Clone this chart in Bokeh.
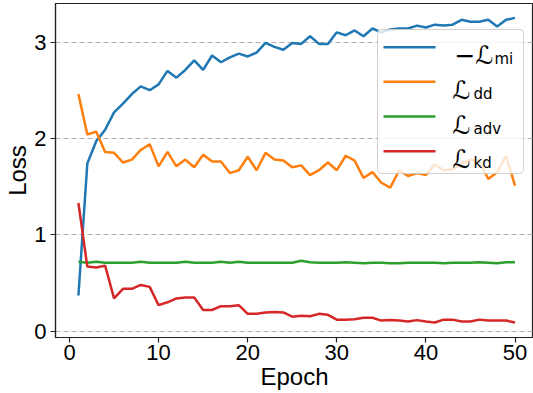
from bokeh.plotting import figure
from bokeh.models import Range1d, BoxAnnotation, Label, FixedTicker
from bokeh.embed import file_html
from bokeh.resources import INLINE

# ---------------- data ----------------
epochs = list(range(1, 51))
neg_l_mi = [0.37, 1.74, 1.97, 2.09, 2.27, 2.36, 2.46, 2.54, 2.50, 2.56,
            2.70, 2.63, 2.71, 2.81, 2.71, 2.86, 2.79, 2.84, 2.88, 2.85,
            2.89, 2.99, 2.95, 2.92, 2.99, 2.98, 3.06, 2.98, 2.98, 3.10,
            3.07, 3.12, 3.06, 3.14, 3.10, 3.13, 3.14, 3.14, 3.17, 3.15,
            3.18, 3.17, 3.18, 3.23, 3.21, 3.21, 3.23, 3.16, 3.23, 3.25]
l_dd = [2.46, 2.04, 2.07, 1.86, 1.85, 1.75, 1.78, 1.88, 1.94, 1.71,
        1.86, 1.71, 1.78, 1.70, 1.83, 1.76, 1.76, 1.64, 1.67, 1.81,
        1.67, 1.85, 1.78, 1.77, 1.70, 1.72, 1.62, 1.67, 1.75, 1.67,
        1.82, 1.77, 1.59, 1.65, 1.54, 1.49, 1.67, 1.61, 1.64, 1.62,
        1.73, 1.67, 1.68, 1.74, 1.78, 1.76, 1.58, 1.65, 1.82, 1.51]
l_adv = [0.72, 0.71, 0.72, 0.71, 0.71, 0.71, 0.71, 0.72, 0.71, 0.71,
         0.71, 0.71, 0.72, 0.71, 0.71, 0.71, 0.72, 0.71, 0.72, 0.71,
         0.71, 0.71, 0.71, 0.71, 0.71, 0.73, 0.715, 0.71, 0.71, 0.71,
         0.715, 0.71, 0.705, 0.71, 0.71, 0.705, 0.705, 0.71, 0.71, 0.71,
         0.71, 0.705, 0.71, 0.71, 0.71, 0.715, 0.71, 0.705, 0.715, 0.715]
l_kd = [1.33, 0.67, 0.66, 0.68, 0.34, 0.44, 0.44, 0.48, 0.46, 0.27,
        0.30, 0.34, 0.35, 0.35, 0.22, 0.22, 0.26, 0.26, 0.27, 0.18,
        0.18, 0.195, 0.20, 0.195, 0.15, 0.16, 0.155, 0.18, 0.17, 0.12,
        0.12, 0.125, 0.14, 0.14, 0.11, 0.115, 0.11, 0.10, 0.115, 0.10,
        0.09, 0.12, 0.12, 0.10, 0.10, 0.12, 0.11, 0.11, 0.11, 0.09]

series = [neg_l_mi, l_dd, l_adv, l_kd]
label_main = ["\u2212\u2112", "\u2112", "\u2112", "\u2112"]
label_sub = ["mi", "dd", "adv", "kd"]
colors = ["#1f77b4", "#ff7f0e", "#2ca02c", "#d62728"]
x_ticks = [0, 10, 20, 30, 40, 50]
y_ticks = [0, 1, 2, 3]
x_label = "Epoch"
y_label = "Loss"

# ------------- geometry helpers (image px -> data) -------------
def dx(px):
    return (px - 69.0) / 8.91

def dy(py):
    return (330.7 - py) / 96.4

p = figure(width=533, height=393, output_backend="svg", toolbar_location=None,
           x_range=Range1d(dx(55), dx(533)), y_range=Range1d(dy(337), dy(3)),
           min_border_left=55, min_border_right=0, min_border_top=3, min_border_bottom=56)
p.background_fill_color = "white"
p.border_fill_color = "white"
p.outline_line_color = "#222222"
p.outline_line_width = 1.2

for ax in (p.xaxis[0], p.yaxis[0]):
    ax.axis_line_color = "#222222"
    ax.axis_line_width = 1.2
    ax.major_tick_line_color = "#222222"
    ax.major_tick_line_width = 1.2
    ax.major_tick_in = 0
    ax.major_tick_out = 5
    ax.minor_tick_line_color = None
    ax.major_label_text_font = "Liberation Sans"
    ax.major_label_text_font_size = "22px"
    ax.major_label_text_color = "black"
    ax.axis_label_text_font = "Liberation Sans"
    ax.axis_label_text_font_size = "24px"
    ax.axis_label_text_font_style = "normal"
    ax.axis_label_text_color = "black"

p.xaxis[0].ticker = FixedTicker(ticks=x_ticks)
p.yaxis[0].ticker = FixedTicker(ticks=y_ticks)
p.xaxis[0].axis_label = x_label
p.yaxis[0].axis_label = y_label
p.xaxis[0].major_label_standoff = 2
p.xaxis[0].axis_label_standoff = 0
p.yaxis[0].major_label_standoff = 4
p.yaxis[0].axis_label_standoff = 0

p.xgrid.grid_line_color = None
p.ygrid.grid_line_color = "#b0b0b0"
p.ygrid.grid_line_dash = "5 3"
p.ygrid.grid_line_width = 1

for vals, c in zip(series, colors):
    p.line(epochs, vals, line_color=c, line_width=2.5)

# ------------- legend (drawn manually for subscript labels) -------------
box = BoxAnnotation(left=dx(377), right=dx(523), top=dy(29), bottom=dy(173),
                    fill_color="white", fill_alpha=0.8,
                    line_color="#cccccc", line_alpha=0.9, line_width=1,
                    border_radius=4)
p.add_layout(box)

rows = [46.7, 81.3, 116.0, 150.7]
for i, (c, m, s) in enumerate(zip(colors, label_main, label_sub)):
    ry = rows[i]
    seg = p.segment(x0=[dx(383)], y0=[dy(ry)], x1=[dx(435)], y1=[dy(ry)],
                    line_color=c, line_width=2.5)
    seg.level = "overlay"
    mx = 454 if i == 0 else 452
    p.add_layout(Label(x=dx(mx), y=dy(ry + 8.5), text=m, text_font="DejaVu Sans",
                       text_font_size="25px", text_color="black",
                       text_align="left", text_baseline="alphabetic"))
    sx = 494 if i == 0 else 473
    p.add_layout(Label(x=dx(sx), y=dy(ry + 12), text=s, text_font="DejaVu Sans",
                       text_font_size="15px", text_color="black",
                       text_align="left", text_baseline="alphabetic"))

open("out.html", "w").write(file_html(p, INLINE))
